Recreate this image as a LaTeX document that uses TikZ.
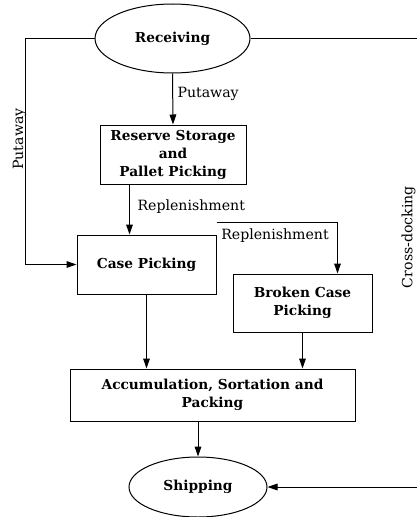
\documentclass[tikz,border=0pt]{standalone}
\usepackage{fontspec}
\setmainfont{DejaVu Serif}
\usetikzlibrary{arrows.meta,shapes.geometric}

\tikzset{every picture/.style={line width=0.75pt}}
\tikzset{
  flowbox/.style={draw,rectangle,align=center,inner sep=0pt,font=\bfseries\fontsize{10.3}{13.5}\selectfont},
  flowend/.style={draw,ellipse,align=center,inner sep=0pt,font=\bfseries\fontsize{10.3}{13.5}\selectfont},
  flowlabel/.style={inner sep=0.75pt,font=\fontsize{10.6}{13}\selectfont},
  flowarrow/.style={-{Triangle[length=7.5pt,width=5pt]}}
}

\begin{document}
\begin{tikzpicture}[x=0.75pt,y=0.75pt,yscale=-1,xscale=1]
        \useasboundingbox (0,0) rectangle (417,517);
        \clip (0,0) rectangle (417,517);

        % stations
        \node [flowend, minimum width=116.25pt, minimum height=51.75pt] (recv) at (172.5,38.5) {Receiving};
        \node [flowbox, minimum width=109.5pt, minimum height=44.25pt] (reserve) at (173,154.5) {Reserve Storage\\and\\Pallet Picking};
        \node [flowbox, minimum width=104.25pt, minimum height=44.25pt] (case) at (146.5,264.5) {Case Picking};
        \node [flowbox, minimum width=104.25pt, minimum height=43.5pt] (broken) at (302.5,303) {Broken Case\\Picking};
        \node [flowbox, minimum width=213.75pt, minimum height=39pt] (accum) at (212.5,395) {Accumulation, Sortation and\\Packing};
        \node [flowend, minimum width=103.5pt, minimum height=45pt] (ship) at (198,487) {Shipping};

        % corner points outside the boxes
        \coordinate (putcorner) at (25,38.5);
        \coordinate (xdockcorner) at (432,38.5);

        % flows
        \draw [flowarrow] (recv.south) -- (reserve.north);
        \draw [flowarrow] ([xshift=22.5pt]reserve.south west) -- ([xshift=22.5pt]reserve.south west |- case.north);
        \draw [flowarrow] ([yshift=-9pt]case.north east) -| ([xshift=-26.25pt]broken.north east);
        \draw [flowarrow] (case.south) -- (case.south |- accum.north);
        \draw [flowarrow] (broken.south) -- (broken.south |- accum.north);
        \draw [flowarrow] (accum.south -| ship.north) -- (ship.north);
        \draw [flowarrow] (recv.west) -- (putcorner) |- (case.west);
        \draw [flowarrow] (recv.east) -- (xdockcorner) |- (ship.east);

        % flow labels
        \node [flowlabel, anchor=west] (lputmid) at (176,94) {Putaway};
        \node [flowlabel, anchor=west] (lrepl1) at (136,207) {Replenishment};
        \node [flowlabel] (lrepl2) at (275,236) {Replenishment};
        \node [flowlabel, rotate=90] (lputleft) at (19.5,139) {Putaway};
        \node [flowlabel, rotate=90] (lxdock) at (408.5,237) {Cross-docking};
\end{tikzpicture}
\end{document}
